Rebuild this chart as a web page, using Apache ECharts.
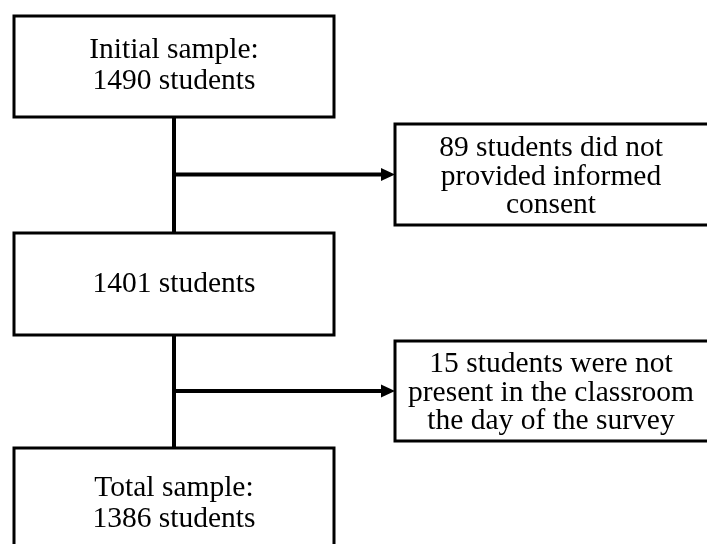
<!DOCTYPE html>
<html>
<head>
<meta charset="utf-8">
<script src="https://cdn.jsdelivr.net/npm/echarts@6/dist/echarts.min.js"></script>
<style>
html,body{margin:0;padding:0;background:#fff;}
#chart{width:707px;height:544px;}
</style>
</head>
<body>
<div id="chart"></div>
<script>
// ---- content ----
const mainLabels = ['Initial sample:\n1490 students', '1401 students', 'Total sample:\n1386 students'];
const exclusionLabels = ['89 students did not\nprovided informed\nconsent', '15 students were not\npresent in the classroom\nthe day of the survey'];

// ---- layout (pixel-space coordinates on hidden axes) ----
const mainX = [14, 334];
const mainRows = [[16, 117], [233, 335], [448, 562]];
const mainTextY = [66, 284, 504];
const exclX = [395, 712];
const exclRows = [[124, 225], [341, 441]];
const exclTextX = 551;
const exclTextY = [177, 393];
const trunkX = 174;
const FONT = "'Liberation Serif', 'Times New Roman', serif";

const boxData = [];
mainLabels.forEach((t, i) => boxData.push({value: [mainX[0], mainRows[i][0], mainX[1], mainRows[i][1], (mainX[0] + mainX[1]) / 2, mainTextY[i], 31], label: t}));
exclusionLabels.forEach((t, i) => boxData.push({value: [exclX[0], exclRows[i][0], exclX[1], exclRows[i][1], exclTextX, exclTextY[i], 28.5], label: t}));

// connectors: trunk segments and arrow branches
const trunkData = [];
trunkData.push({value: [trunkX, mainRows[0][1], trunkX, mainRows[1][0], 0]});
trunkData.push({value: [trunkX, mainRows[1][1], trunkX, mainRows[2][0], 0]});
const arrowData = exclRows.map(r => ({value: [trunkX, (r[0] + r[1]) / 2, exclX[0], (r[0] + r[1]) / 2, 1]}));

const chart = echarts.init(document.getElementById('chart'), null, {renderer: 'canvas'});
chart.setOption({
  animation: false,
  backgroundColor: '#ffffff',
  grid: {left: 0, right: 0, top: 0, bottom: 0},
  xAxis: {type: 'value', min: 0, max: 707, show: false},
  yAxis: {type: 'value', min: 0, max: 544, inverse: true, show: false},
  series: [
    {
      type: 'custom',
      coordinateSystem: 'cartesian2d',
      clip: false,
      data: trunkData.concat(arrowData),
      renderItem: function (params, api) {
        const p1 = api.coord([api.value(0), api.value(1)]);
        const p2 = api.coord([api.value(2), api.value(3)]);
        const isArrow = api.value(4) === 1;
        const children = [];
        if (!isArrow) {
          children.push({type: 'line', shape: {x1: p1[0], y1: p1[1], x2: p2[0], y2: p2[1]}, style: {stroke: '#000', lineWidth: 4}});
        } else {
          const headLen = 14, headHalf = 6.5;
          children.push({type: 'line', shape: {x1: p1[0] - 2, y1: p1[1], x2: p2[0] - headLen + 1, y2: p2[1]}, style: {stroke: '#000', lineWidth: 4}});
          children.push({type: 'polygon', shape: {points: [[p2[0], p2[1]], [p2[0] - headLen, p2[1] - headHalf], [p2[0] - headLen, p2[1] + headHalf]]}, style: {fill: '#000'}});
        }
        return {type: 'group', children: children};
      },
      z: 1
    },
    {
      type: 'custom',
      coordinateSystem: 'cartesian2d',
      clip: false,
      data: boxData,
      renderItem: function (params, api) {
        const a = api.coord([api.value(0), api.value(1)]);
        const b = api.coord([api.value(2), api.value(3)]);
        const c = api.coord([api.value(4), api.value(5)]);
        const item = boxData[params.dataIndex];
        return {
          type: 'group',
          children: [
            {type: 'rect', shape: {x: a[0], y: a[1], width: b[0] - a[0], height: b[1] - a[1]}, style: {fill: '#fff', stroke: '#000', lineWidth: 3}},
            {type: 'text', x: c[0], y: c[1], style: {text: item.label, fill: '#000', font: '29.5px ' + FONT, lineHeight: api.value(6), align: 'center', verticalAlign: 'middle'}}
          ]
        };
      },
      z: 2
    }
  ]
});
</script>
</body>
</html>
